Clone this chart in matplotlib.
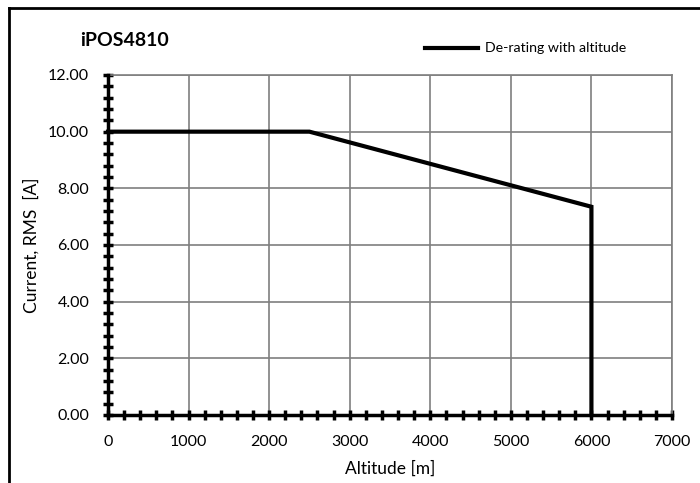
import matplotlib
matplotlib.use("Agg")
import matplotlib.pyplot as plt
from matplotlib.lines import Line2D
from matplotlib.ticker import MultipleLocator, FormatStrFormatter

altitude = [0, 2500, 6000, 6000]
current = [10.0, 10.0, 7.35, 0.0]
series_label = "De-rating with altitude"
title = "iPOS4810"

plt.rcParams['font.family'] = ['Lato', 'DejaVu Sans']

fig = plt.figure(figsize=(7, 4.83), dpi=100)
W, H = 700, 483
ax = fig.add_axes([108/W, 1-415/H, (672-108)/W, (415-75)/H])

ax.plot(altitude, current, color='black', lw=3, solid_joinstyle='miter', zorder=5, clip_on=False)

ax.set_xlim(0, 7000)
ax.set_ylim(0, 12)
ax.xaxis.set_major_locator(MultipleLocator(1000))
ax.xaxis.set_minor_locator(MultipleLocator(200))
ax.yaxis.set_major_locator(MultipleLocator(2))
ax.yaxis.set_minor_locator(MultipleLocator(0.4))
ax.yaxis.set_major_formatter(FormatStrFormatter('%.2f'))
ax.grid(True, which='major', color='#7f7f7f', lw=1.2)
ax.set_axisbelow(True)

for s in ['top', 'right']:
    ax.spines[s].set_color('#7f7f7f')
    ax.spines[s].set_linewidth(1.2)
for s in ['left', 'bottom']:
    ax.spines[s].set_color('black')
    ax.spines[s].set_linewidth(2.5)
    ax.spines[s].set_zorder(6)

ax.tick_params(which='major', direction='inout', length=7, width=2.5, labelsize=11.5, colors='black')
ax.tick_params(which='minor', direction='inout', length=7, width=2.5)
ax.tick_params(axis='y', which='major', pad=10)
ax.tick_params(axis='x', which='major', pad=11)

ax.set_xlabel("Altitude [m]", fontsize=12.5, labelpad=8)
ax.set_ylabel("Current, RMS  [A]", fontsize=12.5, labelpad=6)

fig.text(80/W, 1-40/H, title, fontsize=14, fontweight='bold', va='center', ha='left')

leg_y = 1-48/H
fig.add_artist(Line2D([425/W, 478/W], [leg_y, leg_y], color='black', lw=3, transform=fig.transFigure))
fig.text(485/W, leg_y, series_label, fontsize=10.2, va='center', ha='left')

# outer frame
fig.add_artist(Line2D([9/W, 9/W], [0, 1-8/H], color='black', lw=2, transform=fig.transFigure))
fig.add_artist(Line2D([9/W, 1], [1-8/H, 1-8/H], color='black', lw=2, transform=fig.transFigure))

fig.savefig("out.png", dpi=100)
